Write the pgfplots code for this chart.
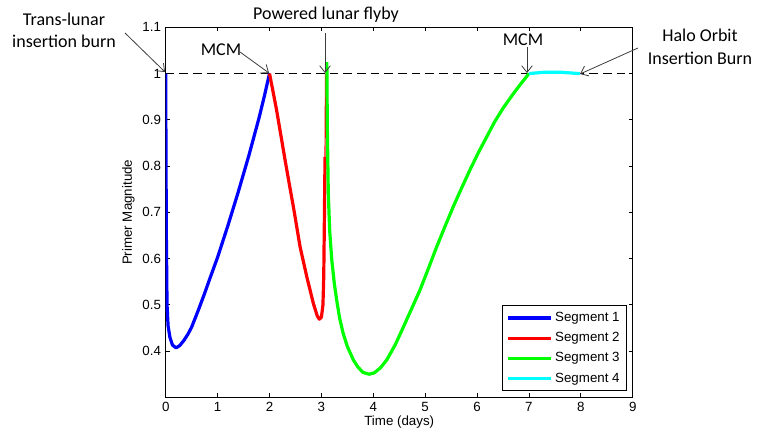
\documentclass[border=0pt]{standalone}
\usepackage{fontspec}
\setmainfont{Liberation Sans}
\newfontfamily\calibri{Carlito}
\usepackage{pgfplots}
\pgfplotsset{compat=1.18}
\usetikzlibrary{arrows.meta}
\definecolor{annot}{RGB}{60,60,60}
\definecolor{segblue}{RGB}{0,0,255}
\definecolor{segred}{RGB}{255,0,0}
\definecolor{seggreen}{RGB}{0,255,0}
\definecolor{segcyan}{RGB}{0,255,255}
\begin{document}
\begin{tikzpicture}
\path[use as bounding box] (0,0) rectangle (567.75pt,330pt);
\begin{axis}[
  at={(124.3pt,32pt)}, anchor=south west,
  scale only axis, width=350.25pt, height=277.5pt,
  xmin=0, xmax=9, ymin=0.3, ymax=1.1,
  xtick={0,1,...,9}, ytick={0.4,0.5,0.6,0.7,0.8,0.9,1,1.1},
  /pgf/number format/assume math mode=true,
  tick align=inside, major tick length=3pt,
  axis line style={line width=0.6pt},
  every tick/.style={black, line width=0.6pt},
  tick label style={font=\fontsize{10}{12}\selectfont},
  xlabel={Time (days)}, ylabel={Primer Magnitude},
  label style={font=\fontsize{10}{12}\selectfont},
  xlabel style={at={(axis description cs:0.5,-0.066)}, anchor=center},
  ylabel style={at={(axis description cs:-0.08,0.5)}, anchor=center},
  legend cell align=left,
  legend image code/.code={\draw[#1] (0pt,0pt) -- (32pt,0pt);},
  legend style={at={(1,0)}, anchor=south east, xshift=-4.5pt, yshift=4.7pt,
    draw=black, line width=0.6pt, font=\fontsize{10}{12}\selectfont, row sep=2.6pt,
    inner xsep=3pt, inner ysep=3pt},
]
\addplot[black, line width=0.6pt, dash pattern=on 6.5pt off 3.75pt, forget plot] coordinates {(0,1) (9,1)};
\addplot[segblue, line width=2.4pt, line join=round] coordinates {
(0,1.0) (0.004,0.85) (0.012,0.65) (0.025,0.5) (0.045,0.455) (0.08,0.43) (0.13,0.413)
(0.2,0.407) (0.27,0.412) (0.35,0.423) (0.43,0.437) (0.5,0.452) (0.63,0.489) (0.75,0.525)
(0.854,0.558) (1.0,0.603) (1.2,0.672) (1.4,0.745) (1.6,0.822) (1.8,0.905) (1.9,0.951) (2.0,1.0)};
\addlegendentry{Segment 1}
\addplot[segred, line width=2.4pt, line join=round] coordinates {
(2.0,1.0) (2.07,0.96) (2.138,0.92) (2.22,0.866) (2.3,0.813) (2.38,0.762) (2.46,0.712)
(2.59,0.625) (2.72,0.56) (2.845,0.503) (2.92,0.476) (2.96,0.469) (3.0,0.473) (3.03,0.5)
(3.045,0.56) (3.056,0.668) (3.07,0.82)};
\addlegendentry{Segment 2}
\addplot[segred, line width=0.9pt, forget plot] coordinates {(3.07,0.82) (3.08,1.0)};
\addplot[seggreen, line width=2.4pt, line join=round] coordinates {
(3.105,1.025) (3.114,0.884) (3.133,0.74) (3.16,0.66) (3.2,0.597) (3.25,0.545) (3.295,0.51)
(3.35,0.472) (3.42,0.438) (3.5,0.41) (3.615,0.381) (3.7,0.366) (3.8,0.354) (3.92,0.350)
(4.02,0.353) (4.14,0.364) (4.26,0.381) (4.42,0.413) (4.58,0.452) (4.74,0.492) (4.9,0.532)
(5.06,0.578) (5.22,0.625) (5.38,0.669) (5.54,0.712) (5.7,0.752) (5.86,0.791) (6.02,0.828)
(6.185,0.863) (6.34,0.896) (6.5,0.925) (6.67,0.952) (6.83,0.976) (7.0,1.0)};
\addlegendentry{Segment 3}
\addplot[segcyan, line width=2.4pt, line join=round] coordinates {
(7.0,1.0) (7.3,1.003) (7.6,1.003) (7.98,1.0)};
\addlegendentry{Segment 4}
\end{axis}
\begin{scope}[x=0.75pt, y=-0.75pt, yshift=330pt]
\tikzset{ann/.style={draw=annot, line width=0.6pt, -{Straight Barb[length=5pt,width=8pt]}}}
\draw[ann] (125,33) -- (165,72);
\draw[ann] (240,52) -- (269,73);
\draw[ann] (325,33) -- (325,73);
\draw[ann] (527,47) -- (527,73);
\draw[ann] (638,48) -- (580,74);
\node[align=center, font=\calibri\fontsize{13.5}{16.5}\selectfont, inner sep=0pt] at (64,30) {Trans-lunar\\insertion burn};
\node[font=\calibri\fontsize{13.5}{16.5}\selectfont, inner sep=0pt] at (326,15) {Powered lunar flyby};
\node[font=\calibri\fontsize{13.5}{16.5}\selectfont, inner sep=0pt] at (221,50) {MCM};
\node[font=\calibri\fontsize{13.5}{16.5}\selectfont, inner sep=0pt] at (523,40) {MCM};
\node[align=center, font=\calibri\fontsize{13.5}{17}\selectfont, inner sep=0pt] at (700,47) {Halo Orbit\\Insertion Burn};
\end{scope}
\end{tikzpicture}
\end{document}
